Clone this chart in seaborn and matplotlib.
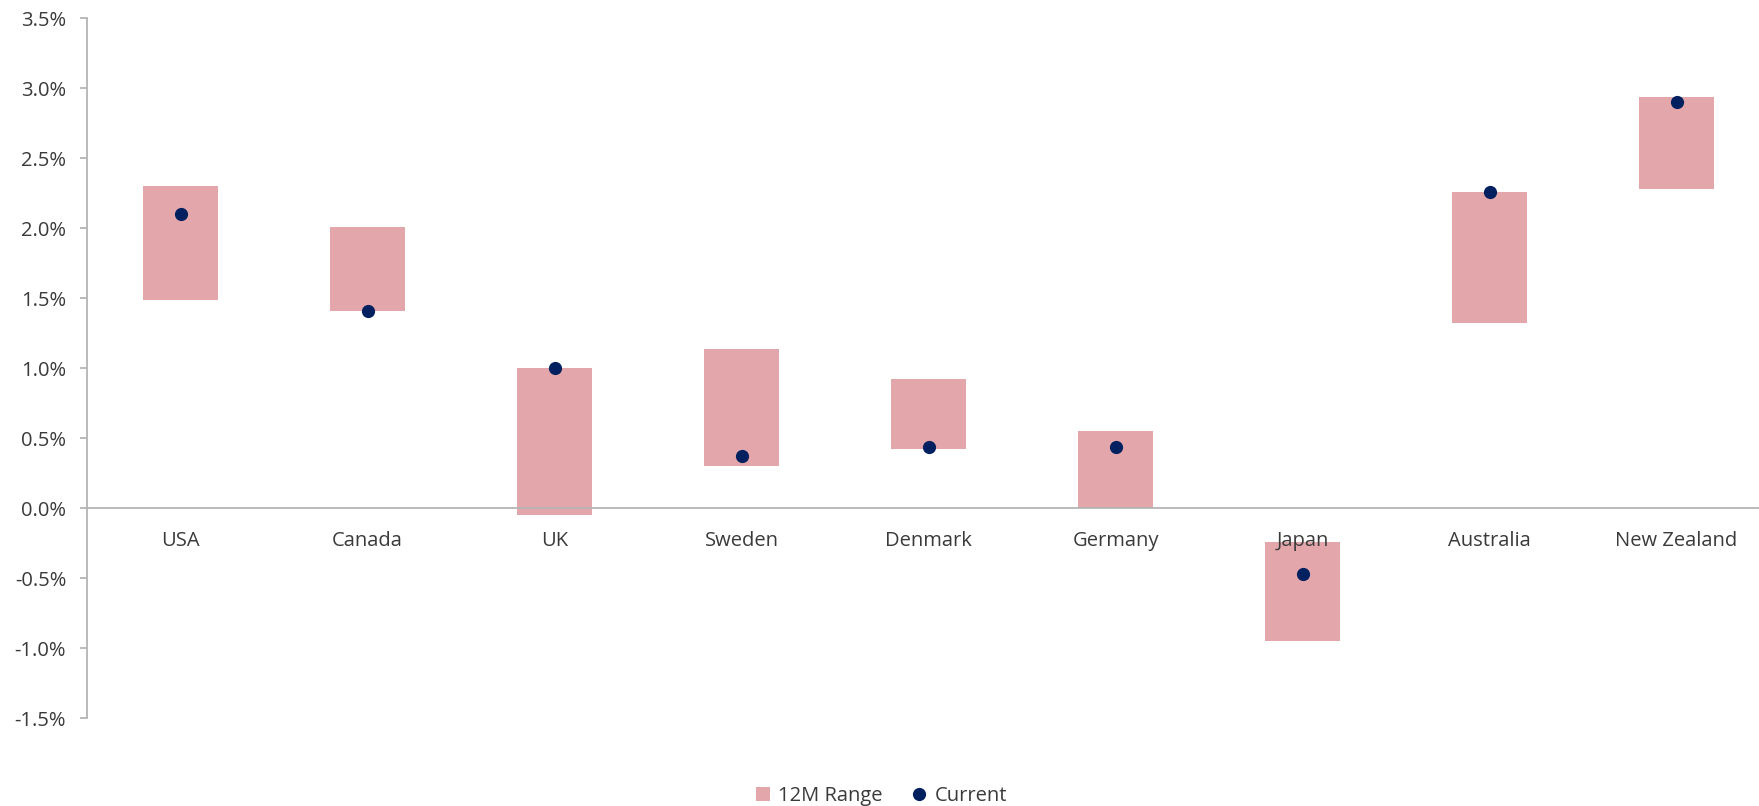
import pandas as pd
import matplotlib
matplotlib.use('Agg')
import matplotlib.pyplot as plt
import seaborn as sns
from matplotlib.ticker import FuncFormatter, FixedLocator
from matplotlib.patches import Patch
from matplotlib.lines import Line2D

# data (in %)
countries = ['USA', 'Canada', 'UK', 'Sweden', 'Denmark', 'Germany', 'Japan', 'Australia', 'New Zealand']
range_low = [1.49, 1.41, -0.05, 0.30, 0.42, 0.00, -0.95, 1.32, 2.28]
range_high = [2.30, 2.01, 1.00, 1.14, 0.92, 0.55, -0.24, 2.26, 2.94]
current = [2.10, 1.41, 1.00, 0.37, 0.44, 0.44, -0.47, 2.26, 2.90]

df = pd.DataFrame({'country': countries, 'low': range_low, 'high': range_high, 'current': current})
df['span'] = df['high'] - df['low']

bar_col = '#E3A7AB'
dot_col = '#002060'
axis_col = '#b4b4b4'
text_col = '#3a3a3a'
fs = 14.5

sns.set_style('white')
plt.rcParams['font.family'] = ['Open Sans', 'DejaVu Sans']

W, H = 1759, 806
fig = plt.figure(figsize=(W / 100, H / 100), dpi=100)
# plot area runs a bit past the right edge, as in the original
ax = fig.add_axes([87 / W, 1 - 718.3 / H, 1683 / W, 700 / H])

sns.barplot(data=df, x='country', y='span', order=countries, bottom=df['low'].values,
            color=bar_col, saturation=1, width=0.4, errorbar=None, ax=ax, linewidth=0)
sns.stripplot(data=df, x='country', y='current', order=countries, jitter=False,
              color=dot_col, size=9.5, linewidth=0, ax=ax, zorder=5)

# bars behind the axis so the Japan label shows over its bar
for p in ax.patches:
    p.set_zorder(0.5)
ax.xaxis.set_zorder(3)
ax.yaxis.set_zorder(3)

ax.set_ylim(-1.5, 3.5)
ax.set_xlim(-0.5, 8.5)
ax.set_xlabel('')
ax.set_ylabel('')

ax.yaxis.set_major_locator(FixedLocator([-1.5, -1.0, -0.5, 0, 0.5, 1.0, 1.5, 2.0, 2.5, 3.0, 3.5]))
ax.yaxis.set_major_formatter(FuncFormatter(lambda v, p: f'{v:.1f}%'))

for s in ['top', 'right']:
    ax.spines[s].set_visible(False)
ax.spines['bottom'].set_position(('data', 0))
for s in ['left', 'bottom']:
    ax.spines[s].set_color(axis_col)
    ax.spines[s].set_linewidth(1.3)
    ax.spines[s].set_zorder(3)

ax.set_xticks(range(len(countries)))
ax.set_xticklabels(countries)
ax.set_xticks([i + 0.5 for i in range(len(countries) - 1)], minor=True)
ax.tick_params(axis='x', which='major', length=0, pad=16, labelsize=fs, labelcolor=text_col)
ax.tick_params(axis='x', which='minor', length=5, width=1.3, color=axis_col, direction='out')
ax.tick_params(axis='y', which='major', length=5, width=1.3, color=axis_col, pad=10,
               labelsize=fs, labelcolor=text_col, left=True)

handles = [Patch(facecolor=bar_col, edgecolor='none', label='12M Range'),
           Line2D([0], [0], marker='o', color='none', markerfacecolor=dot_col,
                  markeredgecolor='none', markersize=9.5, label='Current')]
fig.legend(handles=handles, loc='center', bbox_to_anchor=(0.501, 1 - 796 / H), ncol=2,
           frameon=False, fontsize=fs, labelcolor=text_col, handlelength=0.7,
           handleheight=0.7, handletextpad=0.4, columnspacing=1.5)

fig.savefig('out.png', dpi=100)
